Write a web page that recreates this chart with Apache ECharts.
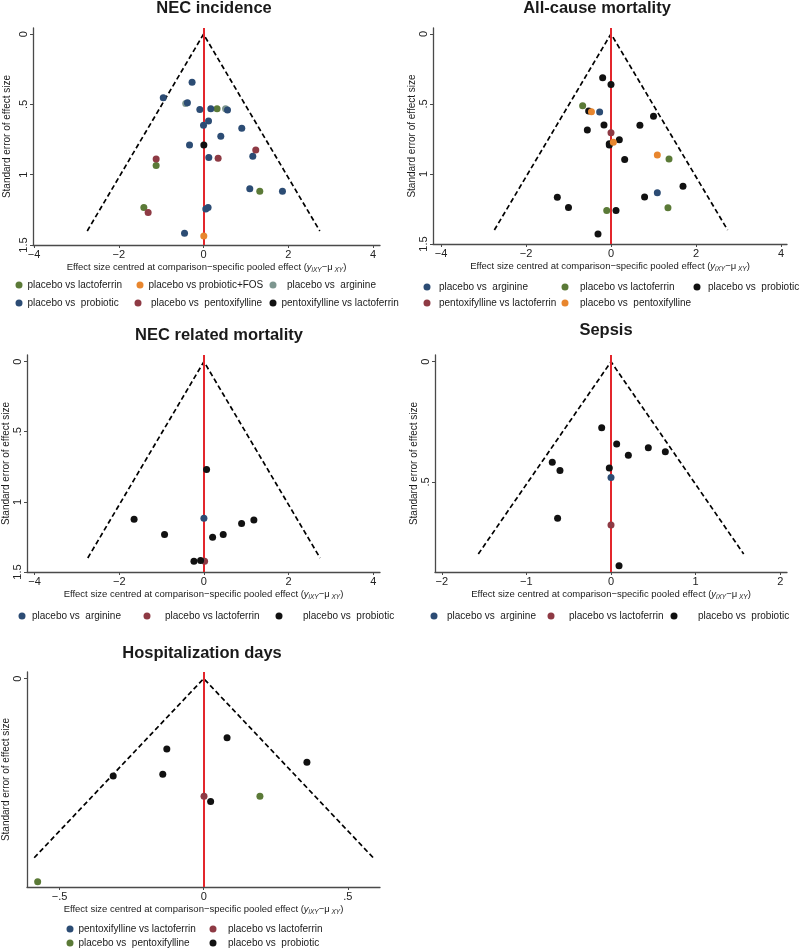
<!DOCTYPE html>
<html>
<head>
<meta charset="utf-8">
<script src="https://cdn.jsdelivr.net/npm/echarts@6/dist/echarts.min.js"></script>
<style>html,body{margin:0;padding:0;background:#fff}#c{width:800px;height:951px}</style>
</head>
<body>
<div id="c"></div>
<script>
// ---------- DATA (effect size centred, standard error) ----------
// NEC incidence
const nec_lactoferrin = [[0.32,0.530],[-1.118,0.935],[1.328,1.118],[-1.408,1.234]];
const nec_probioticFOS = [[0.007,1.436]];
const nec_arginine = [[-0.42,0.493],[0.52,0.530]];
const nec_probiotic = [[-0.27,0.342],[-0.95,0.452],[-0.38,0.488],[-0.087,0.535],[0.172,0.530],[0.566,0.540],[0.118,0.617],[0.0,0.648],[0.903,0.669],[0.408,0.727],[-0.33,0.789],[1.163,0.869],[0.125,0.878],[1.092,1.100],[1.863,1.118],[0.054,1.243],[0.108,1.234],[-0.448,1.417]];
const nec_pentoxifylline = [[1.233,0.824],[0.345,0.883],[-1.118,0.888],[-1.307,1.269]];
const nec_pentoxLacto = [[0.008,0.789]];
// All-cause mortality
const ac_arginine = [[-0.267,0.557],[1.09,1.134]];
const ac_lactoferrin = [[-0.667,0.513],[1.365,0.893],[1.34,1.242],[-0.10,1.260]];
const ac_probiotic = [[-0.196,0.314],[0.0,0.361],[-0.525,0.550],[1.0,0.588],[-0.165,0.651],[0.68,0.653],[-0.557,0.686],[0.196,0.755],[-0.04,0.785],[-0.04,0.794],[0.322,0.897],[1.694,1.087],[-1.263,1.167],[0.79,1.164],[-1.0,1.240],[0.118,1.260],[-0.306,1.429]];
const ac_pentoxLacto = [[0.0,0.705]];
const ac_pentoxifylline = [[-0.46,0.555],[0.055,0.773],[1.09,0.864]];
// NEC related mortality
const nm_arginine = [[0.0,1.117]];
const nm_lactoferrin = [[0.016,1.423]];
const nm_probiotic = [[0.063,0.770],[-1.65,1.124],[1.18,1.129],[0.89,1.155],[-0.93,1.232],[0.456,1.232],[0.205,1.253],[-0.236,1.423],[-0.079,1.418]];
// Sepsis
const sep_arginine = [[0.0,0.482]];
const sep_lactoferrin = [[0.0,0.679]];
const sep_probiotic = [[-0.110,0.275],[0.067,0.342],[0.441,0.358],[0.642,0.375],[0.205,0.389],[-0.694,0.418],[-0.020,0.442],[-0.603,0.453],[-0.631,0.651],[0.095,0.849]];
// Hospitalization days
const hd_lactoferrin = [[0.001,0.197]];
const hd_pentoxifylline = [[0.195,0.197],[-0.576,0.340]];
const hd_probiotic = [[0.081,0.099],[-0.128,0.118],[0.358,0.140],[-0.142,0.160],[-0.314,0.163],[0.024,0.206]];
// Funnel (pseudo 95% limits) end points
const funnel_14 = [[-2.744,1.4],[0,0],[2.744,1.4]];
const funnel_08 = [[-1.568,0.8],[0,0],[1.568,0.8]];
const funnel_03 = [[-0.588,0.3],[0,0],[0.588,0.3]];
// Tick labels
const ticksX4 = [-4,-2,0,2,4];
const ticksX2 = [-2,-1,0,1,2];
const ticksX05 = [-0.5,0,0.5];
const ticksY15 = [0,0.5,1,1.5];
const ticksY05 = [0,0.5];
const ticksY0 = [0];

// ---------- STYLE ----------
const C = {blue:'#2c4c74', green:'#5b7a37', teal:'#7d968f', orange:'#e8862e', maroon:'#8e3a44', black:'#111111'};
const FONT = 'Liberation Sans, Arial, sans-serif';

const panels = [
  {title:'NEC incidence', tx:214, ty:8, grid:{left:33,top:28,width:347,height:217}, xr:[-4.024,4.165], xt:ticksX4, yr:[-0.044,1.5], yt:ticksY15, funnel:funnel_14, yGap:21,
   series:[['placebo vs lactoferrin',nec_lactoferrin,C.green],['placebo vs probiotic+FOS',nec_probioticFOS,C.orange],['placebo vs  arginine',nec_arginine,C.teal],['placebo vs  probiotic',nec_probiotic,C.blue],['placebo vs  pentoxifylline',nec_pentoxifylline,C.maroon],['pentoxifylline vs lactoferrin',nec_pentoxLacto,C.black]],
   legend:[['placebo vs lactoferrin',C.green,19,27,287],['placebo vs probiotic+FOS',C.orange,140,146,287],['placebo vs  arginine',C.teal,273,287,287],['placebo vs  probiotic',C.blue,19,27,305],['placebo vs  pentoxifylline',C.maroon,138,151,305],['pentoxifylline vs lactoferrin',C.black,273,281,305]]},
  {title:'All-cause mortality', tx:597, ty:8, grid:{left:433,top:28,width:354,height:216}, xr:[-4.188,4.141], xt:ticksX4, yr:[-0.042,1.5], yt:ticksY15, funnel:funnel_14, yGap:15,
   series:[['placebo vs  arginine',ac_arginine,C.blue],['placebo vs lactoferrin',ac_lactoferrin,C.green],['placebo vs  probiotic',ac_probiotic,C.black],['pentoxifylline vs lactoferrin',ac_pentoxLacto,C.maroon],['placebo vs  pentoxifylline',ac_pentoxifylline,C.orange]],
   legend:[['placebo vs  arginine',C.blue,427,439,289],['placebo vs lactoferrin',C.green,565,580,289],['placebo vs  probiotic',C.black,697,708,289],['pentoxifylline vs lactoferrin',C.maroon,427,439,305],['placebo vs  pentoxifylline',C.orange,565,580,305]]},
  {title:'NEC related mortality', tx:219, ty:335, grid:{left:27,top:355,width:353,height:217}, xr:[-4.18,4.16], xt:ticksX4, yr:[-0.047,1.5], yt:ticksY15, funnel:funnel_14, yGap:15,
   series:[['placebo vs  arginine',nm_arginine,C.blue],['placebo vs lactoferrin',nm_lactoferrin,C.maroon],['placebo vs  probiotic',nm_probiotic,C.black]],
   legend:[['placebo vs  arginine',C.blue,22,32,618],['placebo vs lactoferrin',C.maroon,147,165,618],['placebo vs  probiotic',C.black,279,303,618]]},
  {title:'Sepsis', tx:606, ty:330, grid:{left:435,top:355,width:352,height:217}, xr:[-2.08,2.08], xt:ticksX2, yr:[-0.028,0.875], yt:ticksY05, funnel:funnel_08, yGap:15,
   series:[['placebo vs  arginine',sep_arginine,C.blue],['placebo vs lactoferrin',sep_lactoferrin,C.maroon],['placebo vs  probiotic',sep_probiotic,C.black]],
   legend:[['placebo vs  arginine',C.blue,434,447,618],['placebo vs lactoferrin',C.maroon,551,569,618],['placebo vs  probiotic',C.black,674,698,618]]},
  {title:'Hospitalization days', tx:202, ty:653, grid:{left:27,top:672,width:353,height:215}, xr:[-0.613,0.6115], xt:ticksX05, yr:[-0.011,0.349], yt:ticksY0, funnel:funnel_03, yGap:15,
   series:[['placebo vs lactoferrin',hd_lactoferrin,C.maroon],['placebo vs  pentoxifylline',hd_pentoxifylline,C.green],['placebo vs  probiotic',hd_probiotic,C.black]],
   legend:[['pentoxifylline vs lactoferrin',C.blue,70,78,931],['placebo vs lactoferrin',C.maroon,213,228,931],['placebo vs  pentoxifylline',C.green,70,78,945],['placebo vs  probiotic',C.black,213,228,945]]}
];

function fmtNum(v){
  let s = String(Math.abs(v));
  if (s.startsWith('0.')) s = s.slice(1);
  return (v < 0 ? '\u2212' : '') + s;
}

const option = {
  animation:false,
  backgroundColor:'#fff',
  textStyle:{fontFamily:FONT},
  title:[], grid:[], xAxis:[], yAxis:[], series:[], legend:[]
};

const AXC = '#4a4a4a';
panels.forEach((p, i) => {
  option.title.push({text:p.title, left:p.tx, top:p.ty, textAlign:'center', textVerticalAlign:'middle', padding:0,
    textStyle:{fontFamily:FONT, fontSize:16.5, fontWeight:'bold', color:'#1a1a1a'}});
  option.grid.push(Object.assign({containLabel:false, outerBoundsMode:'none'}, p.grid));
  option.xAxis.push({type:'value', gridIndex:i, min:p.xr[0], max:p.xr[1],
    name:'{a|Effect size centred at comparison\u2212specific pooled effect (}{i|y}{s|iXY}{a|\u2212\u03bc}{s| XY}{a|)}',
    nameLocation:'middle', nameGap:16,
    nameTextStyle:{fontFamily:FONT, color:'#1a1a1a', rich:{
      a:{fontSize:9.5, fontFamily:FONT, color:'#1a1a1a', lineHeight:13},
      i:{fontSize:9.5, fontFamily:FONT, fontStyle:'italic', color:'#1a1a1a', lineHeight:13},
      s:{fontSize:6.5, fontFamily:FONT, fontStyle:'italic', color:'#1a1a1a', verticalAlign:'bottom', lineHeight:13}}},
    axisLine:{show:true, onZero:false, lineStyle:{color:AXC, width:1.3}},
    axisTick:{show:true, inside:false, length:3, customValues:p.xt, lineStyle:{color:AXC, width:1}},
    axisLabel:{show:true, margin:4, customValues:p.xt, formatter:v=>fmtNum(v), fontSize:11, fontFamily:FONT, color:'#222'},
    splitLine:{show:false}});
  option.yAxis.push({type:'value', gridIndex:i, inverse:true, min:p.yr[0], max:p.yr[1],
    name:'Standard error of effect size', nameLocation:'middle', nameGap:p.yGap,
    nameTextStyle:{fontFamily:FONT, fontSize:10, color:'#1a1a1a'},
    axisLine:{show:true, onZero:false, lineStyle:{color:AXC, width:1.3}},
    axisTick:{show:true, inside:false, length:3, customValues:p.yt, lineStyle:{color:AXC, width:1}},
    axisLabel:{show:true, rotate:90, margin:4, customValues:p.yt, formatter:v=>fmtNum(v), fontSize:11, fontFamily:FONT, color:'#222'},
    splitLine:{show:false}});
  option.series.push({type:'line', name:'funnel'+i, xAxisIndex:i, yAxisIndex:i, data:p.funnel, symbol:'none', silent:true, z:2,
    lineStyle:{color:'#000', width:1.7, type:[5,3]},
    markLine:{silent:true, symbol:'none', label:{show:false}, data:[{xAxis:0}], lineStyle:{color:'#e3262c', width:2, type:'solid'}}});
  p.series.forEach(s => {
    option.series.push({type:'scatter', name:s[0], xAxisIndex:i, yAxisIndex:i, data:s[1], symbol:'circle', symbolSize:7, z:5,
      itemStyle:{color:s[2], opacity:1}});
  });
  p.legend.forEach(l => {
    const iconLeft = l[2] - 3.5;
    const pad = Math.max(0, l[3] - (l[2] + 8.5));
    option.legend.push({show:true, left:iconLeft, top:l[4]-7, padding:0, orient:'horizontal', selectedMode:false,
      itemWidth:7, itemHeight:7, icon:'circle',
      data:[{name:l[0], icon:'circle', itemStyle:{color:l[1], borderWidth:0}}],
      textStyle:{fontFamily:FONT, fontSize:10, color:'#1a1a1a', padding:[0,0,0,pad]}});
  });
});

const chart = echarts.init(document.getElementById('c'), null, {renderer:'canvas'});
chart.setOption(option);
</script>
</body>
</html>
